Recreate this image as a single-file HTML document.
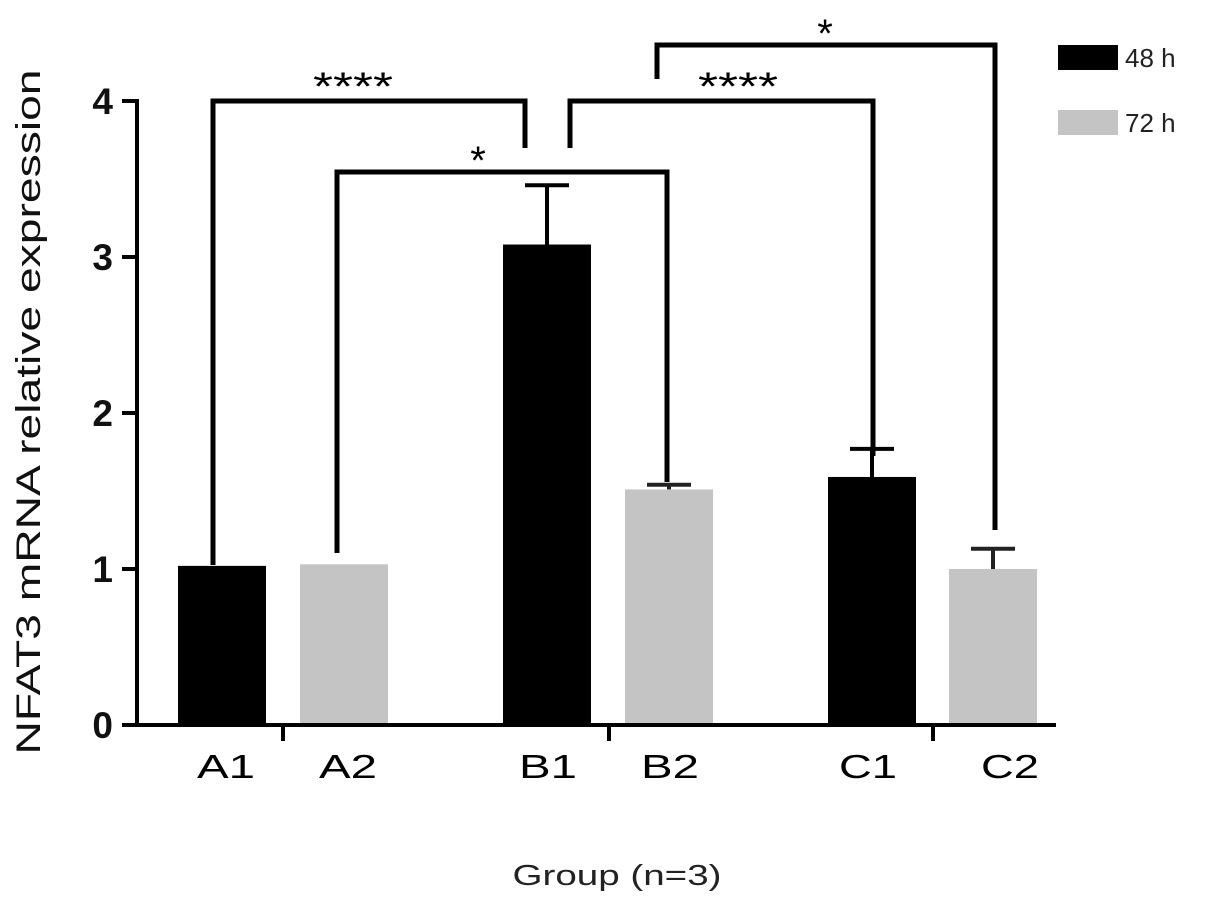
<!DOCTYPE html>
<html><head><meta charset="utf-8"><style>
body{margin:0;background:#fff;}
svg{display:block;font-family:"Liberation Sans","DejaVu Sans",sans-serif;}
</style></head><body>
<svg id="chart" width="1205" height="907" viewBox="0 0 1205 907" style="position:absolute;left:0;top:0">
<g id="marks"></g>
</svg>
<script>
const categories = ["A1","A2","B1","B2","C1","C2"];
const values = [1.02, 1.03, 3.08, 1.51, 1.59, 1.0];
const errors = [0, 0, 0.38, 0.03, 0.18, 0.13];
const seriesOf = ["48 h","72 h","48 h","72 h","48 h","72 h"];
const yTicks = [0,1,2,3,4];
const barLeft = [178,300,503,625,828,949];
const NS="http://www.w3.org/2000/svg";
const g=document.getElementById('marks');
function y(v){return 725 - v*156;}
function el(t,a,txt){const e=document.createElementNS(NS,t);for(const k in a)e.setAttribute(k,a[k]);if(txt!==undefined)e.textContent=txt;g.appendChild(e);return e;}
const BW=88;
categories.forEach((c,i)=>{
  const x=barLeft[i];
  const col=seriesOf[i]==="48 h"?"#000":"#c4c4c4";
  const ecol=seriesOf[i]==="48 h"?"#000":"#222";
  if(errors[i]>0){
    const cx=x+BW/2;
    const e1=el('line',{x1:cx,x2:cx,y1:y(values[i]),y2:y(values[i]+errors[i]),stroke:ecol,'stroke-width':4});
    
    
    const e2=el('line',{x1:cx-22,x2:cx+22,y1:y(values[i]+errors[i]),y2:y(values[i]+errors[i]),stroke:ecol,'stroke-width':4});
    
    
  }
  const r=el('rect',{x:x,y:y(values[i]),width:BW,height:725-y(values[i]),fill:col});
  
  
  const lx=[226,348,548,670,868,1010][i];
  const t=el('text',{x:lx,y:778,'font-size':33,'text-anchor':'middle',fill:'#000',textLength:58,lengthAdjust:'spacingAndGlyphs'},c);
  
  
});
const ya=el('line',{x1:137,x2:137,y1:99,y2:727,stroke:'#000','stroke-width':4});


const xa=el('line',{x1:135,x2:1056,y1:725,y2:725,stroke:'#000','stroke-width':4});


[283,609,933].forEach(xx=>{const t=el('line',{x1:xx,x2:xx,y1:725,y2:741,stroke:'#000','stroke-width':4});

});
yTicks.forEach(v=>{
  const t=el('line',{x1:122,x2:137,y1:y(v),y2:y(v),stroke:'#000','stroke-width':4});
  
  
  const l=el('text',{x:113,y:y(v)+13,'font-size':37,'text-anchor':'end','font-weight':'bold',fill:'#111'},String(v));
  
  
});
function bracket(x1,y1,x2,y2,top,label,lx,name){
  const p=el('path',{d:`M${x1} ${y1}V${top}H${x2}V${y2}`,fill:'none',stroke:'#000','stroke-width':5});
  
  
  const a={x:lx,y:top-1+(label.length>1?0:3),'font-size':40,'text-anchor':'middle',fill:'#000'};
  if(label.length>1){a.textLength=80;a.lengthAdjust='spacingAndGlyphs';}
  const t=el('text',a,label);
  
  
}
bracket(213,565,525,148,101,"****",353,'bracket-a1-b1');
bracket(337,553,667,482,172,"*",478,'bracket-a2-b2');
bracket(570,148,873,456,101,"****",738,'bracket-b1-c1');
bracket(657,79,995,530,45,"*",825,'bracket-b2-c2');
</script>
<svg style="position:absolute;left:0;top:0" width="1205" height="907">
<text x="30" y="402" font-size="34" text-anchor="middle" transform="rotate(-90 40 402)" fill="#111" textLength="685" lengthAdjust="spacingAndGlyphs">NFAT3 mRNA relative expression</text>
<text x="617" y="885" font-size="29" text-anchor="middle" fill="#222" textLength="209" lengthAdjust="spacingAndGlyphs">Group (n=3)</text>
<g>
<rect x="1058" y="45" width="60" height="25" fill="#000"/>
<text x="1125" y="67" font-size="26" fill="#222">48 h</text>
<rect x="1058" y="110" width="60" height="25" fill="#c4c4c4"/>
<text x="1125" y="132" font-size="26" fill="#222">72 h</text>
</g>
</svg>
</body></html>
